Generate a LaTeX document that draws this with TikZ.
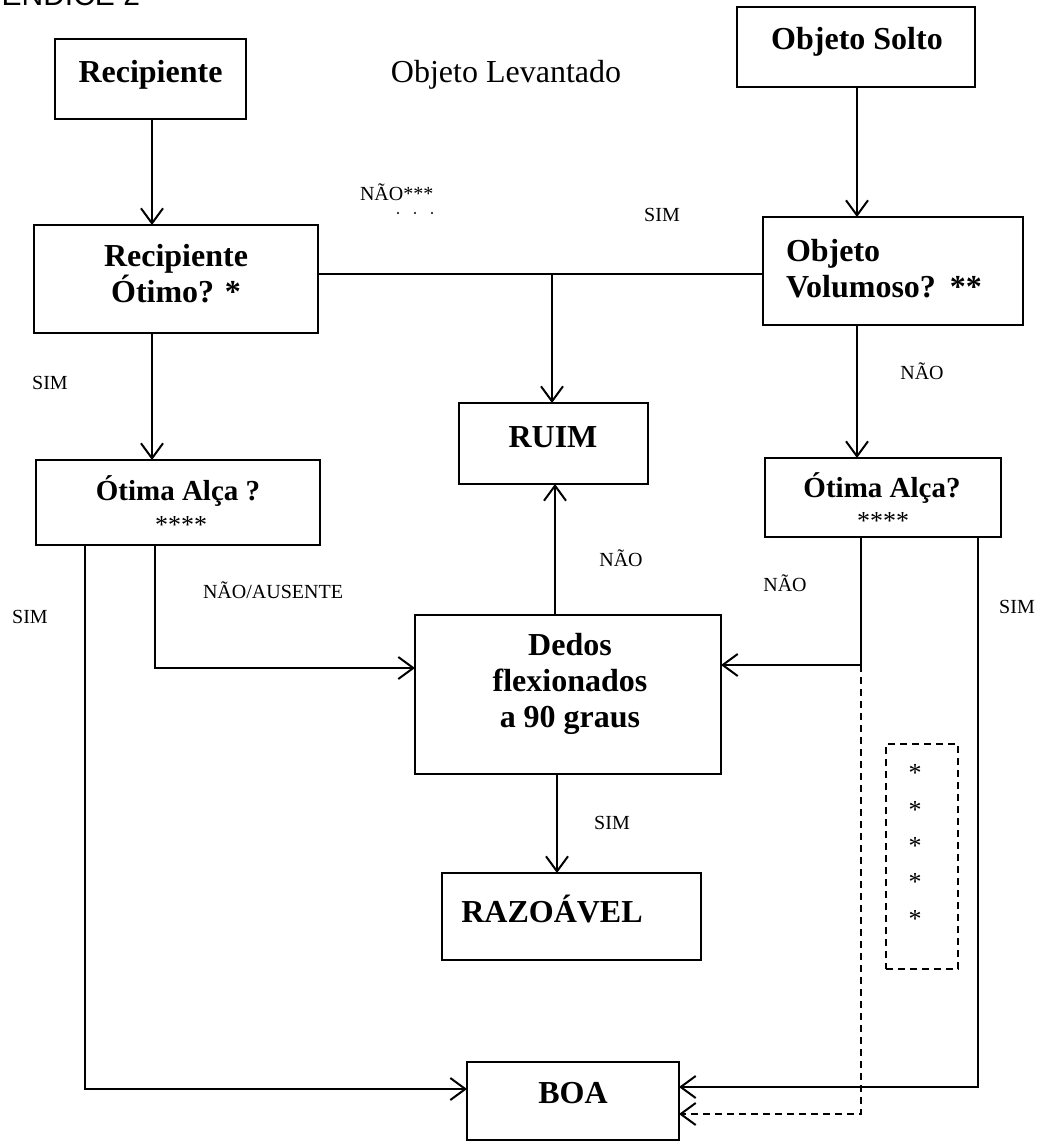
\documentclass[tikz,border=0pt]{standalone}
\usepackage{fontspec}
\setmainfont{Liberation Serif}
\newfontfamily\hdfont{Liberation Sans}
\usetikzlibrary{arrows.meta,calc}
\begin{document}
\begin{tikzpicture}[x=1pt,y=-1pt, line width=2pt,
 box/.style={draw, inner sep=0pt, outer sep=0pt},
 btext/.style={font=\fontsize{32}{36}\selectfont\bfseries, inner sep=0pt, anchor=base},
 atext/.style={font=\fontsize{29}{33}\selectfont\bfseries, inner sep=0pt, anchor=base},
 lbl/.style={font=\fontsize{20}{24}\selectfont, inner sep=0pt},
 star/.style={font=\fontsize{26}{28}\selectfont, inner sep=0pt, anchor=base},
 arr/.style={-{Straight Barb[length=15pt,width=22pt]}},
 dsh/.style={dash pattern=on 7pt off 5pt}]
\path[use as bounding box] (0,0) rectangle (1039,1146);
\clip (0,0) rectangle (1039,1146);

% header
\node[font=\hdfont\fontsize{30}{32}\selectfont, inner sep=0pt, anchor=base east] (hdr) at (141,5) {APÊNDICE 2};
\node[font=\fontsize{32}{36}\selectfont, inner sep=0pt, anchor=base] (lev) at (506,82) {Objeto Levantado};

% boxes
\node[box, minimum width=191pt, minimum height=80pt] (rec) at (150.5,79) {};
\node[btext] (recT) at (150.5,82) {Recipiente};
\node[box, minimum width=284pt, minimum height=108pt] (reco) at (176,279) {};
\node[btext, align=center] (recoT) at (176,302) {Recipiente\\Ótimo? *};
\node[box, minimum width=238pt, minimum height=80pt] (solto) at (856,47) {};
\node[btext] (soltoT) at (857,49) {Objeto Solto};
\node[box, minimum width=260pt, minimum height=108pt] (vol) at (893,271) {};
\node[btext, align=left, anchor=base west] (volT) at (785,297) {Objeto\\Volumoso?\hspace{14pt}**};
\node[box, minimum width=284pt, minimum height=85pt] (alcaL) at (178,502.5) {};
\node[atext] (alcaLT) at (178,500) {Ótima Alça ?};
\node[star] (alcaLS) at (181,533) {****};
\node[box, minimum width=236pt, minimum height=79pt] (alcaR) at (883,497.5) {};
\node[atext] (alcaRT) at (882,497) {Ótima Alça?};
\node[star] (alcaRS) at (883,529) {****};
\node[box, minimum width=189pt, minimum height=81pt] (ruim) at (553.5,443.5) {};
\node[btext] (ruimT) at (553,447) {RUIM};
\node[box, minimum width=306pt, minimum height=159pt] (dedos) at (568,694.5) {};
\node[btext, align=center] (dedosT) at (570,727) {Dedos\\flexionados\\a 90 graus};
\node[box, minimum width=259pt, minimum height=87pt] (razo) at (571.5,916.5) {};
\node[btext] (razoT) at (552,922) {RAZOÁVEL};
\node[box, minimum width=212pt, minimum height=78pt] (boa) at (573,1101) {};
\node[btext] (boaT) at (573,1103) {BOA};
\node[box, dsh, minimum width=72pt, minimum height=225pt] (dbox) at (922,856.5) {};
\node[star] (ds1) at (915,781) {*};
\node[star] (ds2) at (915,818) {*};
\node[star] (ds3) at (915,854) {*};
\node[star] (ds4) at (915,890) {*};
\node[star] (ds5) at (915,927) {*};

% labels
\node[lbl, anchor=base west] (l1) at (359,200) {NÃO***};
\fill (398,213) circle (1.1pt) (415,213) circle (1.1pt) (432,213) circle (1.1pt);
\node[lbl] (l2) at (662,215) {SIM};
\node[lbl] (l3) at (50,383) {SIM};
\node[lbl] (l4) at (922,371) {NÃO};
\node[lbl] (l5) at (30,617) {SIM};
\node[lbl] (l6) at (273,590) {NÃO/AUSENTE};
\node[lbl] (l7) at (621,558) {NÃO};
\node[lbl] (l8) at (785,583) {NÃO};
\node[lbl] (l9) at (1017,607) {SIM};
\node[lbl] (l10) at (612,823) {SIM};

% connectors
\coordinate (xL) at (152,0);
\coordinate (xR) at (857,0);
\coordinate (J) at (552,274);
\coordinate (x1) at (85,0);
\coordinate (x2) at (155,0);
\coordinate (x3) at (861,0);
\coordinate (x4) at (978,0);
\coordinate (xM) at (555,0);
\coordinate (xN) at (557,0);
\coordinate (yA) at (0,1089);
\coordinate (yB) at (0,668);
\coordinate (yC) at (0,665);
\coordinate (yD) at (0,1114);
\coordinate (yE) at (0,1087);

\draw[arr] (xL |- rec.south) -- (xL |- reco.north);
\draw[arr] (xR |- solto.south) -- (xR |- vol.north);
\draw (reco.east |- J) -- (vol.west |- J);
\draw[arr] (J) -- (J |- ruim.north);
\draw[arr] (xL |- reco.south) -- (xL |- alcaL.north);
\draw[arr] (xR |- vol.south) -- (xR |- alcaR.north);
\draw[arr] (x1 |- alcaL.south) -- (x1 |- yA) -- (boa.west |- yA);
\draw[arr] (x2 |- alcaL.south) -- (x2 |- yB) -- (dedos.west |- yB);
\draw[arr] (x3 |- alcaR.south) -- (x3 |- yC) -- (dedos.east |- yC);
\draw[arr, dsh] (x3 |- yC) -- (x3 |- yD) -- (boa.east |- yD);
\draw[arr] (x4 |- alcaR.south) -- (x4 |- yE) -- (boa.east |- yE);
\draw[arr] (xM |- dedos.north) -- (xM |- ruim.south);
\draw[arr] (xN |- dedos.south) -- (xN |- razo.north);
\end{tikzpicture}
\end{document}
